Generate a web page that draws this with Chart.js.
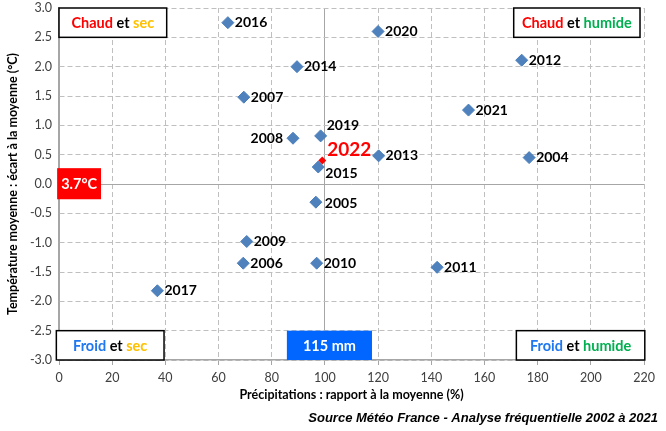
<!DOCTYPE html>
<html>
<head>
<meta charset="utf-8">
<script src="https://cdn.jsdelivr.net/npm/chart.js@4.4.1/dist/chart.umd.min.js"></script>
<style>
  html, body { margin: 0; padding: 0; background: #fff; }
  #wrap { width: 666px; height: 431px; position: relative; }
</style>
</head>
<body>
<div id="wrap"><canvas id="climChart"></canvas></div>
<script>
// Années 2002-2021 : précipitations (% de la moyenne) et écart de température (°C)
const years = ['2016', '2014', '2007', '2008', '2019', '2015', '2005', '2020', '2012', '2021',
               '2013', '2004', '2009', '2006', '2010', '2017', '2011'];
const precip = [63.5, 89.5, 69.5, 88, 98.4, 97.5, 96.6, 120, 174, 154,
                120.2, 176.8, 70.6, 69.3, 96.9, 37, 142.2];
const tempDev = [2.75, 2.0, 1.48, 0.78, 0.82, 0.29, -0.31, 2.6, 2.11, 1.26,
                 0.48, 0.45, -0.98, -1.35, -1.35, -1.82, -1.42];

// 2022
const currentYear = '2022';
const currentPrecip = 99;
const currentTemp = 0.4;

// ticks
const xTicks = [0, 20, 40, 60, 80, 100, 120, 140, 160, 180, 200, 220];
const yTicks = [-3, -2.5, -2, -1.5, -1, -0.5, 0, 0.5, 1, 1.5, 2, 2.5, 3];

// valeurs de référence affichées
const refTempLabel = '3.7°C';
const refPrecipLabel = '115 mm';

// placement des étiquettes (décalage en px depuis le point)
const labelOffset = {
  '2008': [-10, 0, 'right'],
  '2019': [6, -10, 'left'],
  '2015': [7, 6, 'left'],
  '2005': [9, 1, 'left'],
  '2022': [5, -11, 'left']
};

const FONT = 'Lato, "Open Sans", sans-serif';

const pointLabels = {
  id: 'pointLabels',
  afterDatasetsDraw(chart) {
    const c = chart.ctx;
    c.save();
    c.textBaseline = 'middle';
    chart.data.datasets.forEach((ds, di) => {
      const meta = chart.getDatasetMeta(di);
      meta.data.forEach((el, i) => {
        const lbl = ds.labels[i];
        const off = labelOffset[lbl] || [7, 0, 'left'];
        c.textAlign = off[2];
        if (lbl === currentYear) {
          c.font = 'bold 19px ' + FONT;
          c.fillStyle = '#ff0000';
        } else {
          c.font = 'bold 14px ' + FONT;
          c.fillStyle = '#000';
        }
        c.fillText(lbl, el.x + off[0], el.y + off[1]);
      });
    });
    c.restore();
  }
};

function richBox(c, x0, y0, x1, y1, parts, opts) {
  c.save();
  c.fillStyle = opts.fill;
  c.fillRect(x0, y0, x1 - x0, y1 - y0);
  if (opts.stroke) {
    c.strokeStyle = opts.stroke;
    c.lineWidth = 1.5;
    c.strokeRect(x0, y0, x1 - x0, y1 - y0);
  }
  c.font = 'bold 14.5px ' + FONT;
  c.textBaseline = 'middle';
  c.textAlign = 'left';
  const widths = parts.map(p => c.measureText(p[0]).width);
  const total = widths.reduce((a, b) => a + b, 0);
  let x = (x0 + x1) / 2 - total / 2;
  const y = (y0 + y1) / 2 + 1;
  parts.forEach((p, i) => {
    c.fillStyle = p[1];
    c.fillText(p[0], x, y);
    x += widths[i];
  });
  c.restore();
}

const quadrants = {
  id: 'quadrants',
  afterDraw(chart) {
    const c = chart.ctx;
    const xs = chart.scales.x, ys = chart.scales.y;
    const X = v => xs.getPixelForValue(v), Y = v => ys.getPixelForValue(v);
    const red = '#ff0000', blk = '#000', yel = '#ffc000', grn = '#00b050', blu = '#1f78f0';
    richBox(c, X(0), Y(3), X(40.5), Y(2.5), [['Chaud', red], [' et ', blk], ['sec', yel]], { fill: '#fff', stroke: '#000' });
    richBox(c, X(171), Y(3), X(218.5), Y(2.5), [['Chaud', red], [' et ', blk], ['humide', grn]], { fill: '#fff', stroke: '#000' });
    richBox(c, X(-1), Y(-2.5), X(39.5), Y(-3), [['Froid', blu], [' et ', blk], ['sec', yel]], { fill: '#fff', stroke: '#000' });
    richBox(c, X(172), Y(-2.5), X(220.3), Y(-3), [['Froid', blu], [' et ', blk], ['humide', grn]], { fill: '#fff', stroke: '#000' });
    richBox(c, X(85.7), Y(-2.5), X(117.7), Y(-3), [[refPrecipLabel, '#fff']], { fill: '#0066ff' });
    richBox(c, X(-0.7), Y(0.27), X(15.8), Y(-0.26), [[refTempLabel, '#fff']], { fill: '#ff0000' });

    // source
    c.save();
    c.font = 'italic bold 13px "Liberation Sans", Arial, sans-serif';
    c.fillStyle = '#000';
    c.textAlign = 'right';
    c.textBaseline = 'middle';
    c.fillText('Source Météo France - Analyse fréquentielle 2002 à 2021', 658, 418);
    c.restore();
  }
};

const gridDash = ctx => (ctx.tick && (ctx.tick.value === 0 || ctx.tick.value === 100)) ? [] : [5, 3];
const gridColor = ctx => (ctx.tick && (ctx.tick.value === 0 || ctx.tick.value === 100)) ? '#a6a6a6' : '#bfbfbf';

new Chart(document.getElementById('climChart'), {
  type: 'scatter',
  data: {
    datasets: [{
      labels: years,
      data: years.map((y, i) => ({ x: precip[i], y: tempDev[i] })),
      pointStyle: 'rectRot',
      pointRadius: 6,
      backgroundColor: '#4f81bd',
      borderColor: '#4a7ebb',
      borderWidth: 1
    }, {
      labels: [currentYear],
      data: [{ x: currentPrecip, y: currentTemp }],
      pointStyle: 'rectRot',
      pointRadius: 4,
      backgroundColor: '#ff0000',
      borderColor: '#ff0000',
      borderWidth: 0
    }]
  },
  options: {
    responsive: true,
    maintainAspectRatio: false,
    animation: false,
    layout: { padding: { top: 8, right: 22, bottom: 25, left: 0 } },
    plugins: {
      legend: { display: false },
      tooltip: { enabled: false }
    },
    scales: {
      x: {
        type: 'linear',
        min: 0, max: 220,
        afterBuildTicks: s => { s.ticks = xTicks.map(v => ({ value: v })); },
        afterFit: s => { s.height = 46; },
        ticks: { color: '#404040', font: { family: FONT, size: 12.5 }, padding: 5 },
        grid: { color: gridColor, tickColor: '#a6a6a6', tickLength: 5, tickBorderDash: [] },
        border: { color: '#a6a6a6', width: 1.5, dash: gridDash },
        title: {
          display: true,
          text: 'Précipitations : rapport à la moyenne (%)',
          color: '#000',
          font: { family: FONT, size: 12.5, weight: 'bold' },
          padding: { top: 0, bottom: 4 }
        }
      },
      y: {
        type: 'linear',
        min: -3, max: 3,
        afterBuildTicks: s => { s.ticks = yTicks.map(v => ({ value: v })); },
        afterFit: s => { s.width = 59; s.paddingTop = 0; s.paddingBottom = 0; },
        ticks: { color: '#404040', font: { family: FONT, size: 12.5 }, padding: 7,
                 callback: v => v.toFixed(1) },
        grid: { color: gridColor, drawTicks: false },
        border: { color: '#a6a6a6', width: 1.5, dash: gridDash },
        title: {
          display: true,
          text: 'Température moyenne : écart à la moyenne (°C)',
          color: '#000',
          font: { family: FONT, size: 12.5, weight: 'bold' },
          padding: { top: 5, bottom: 0 }
        }
      }
    }
  },
  plugins: [pointLabels, quadrants]
});
</script>
</body>
</html>
